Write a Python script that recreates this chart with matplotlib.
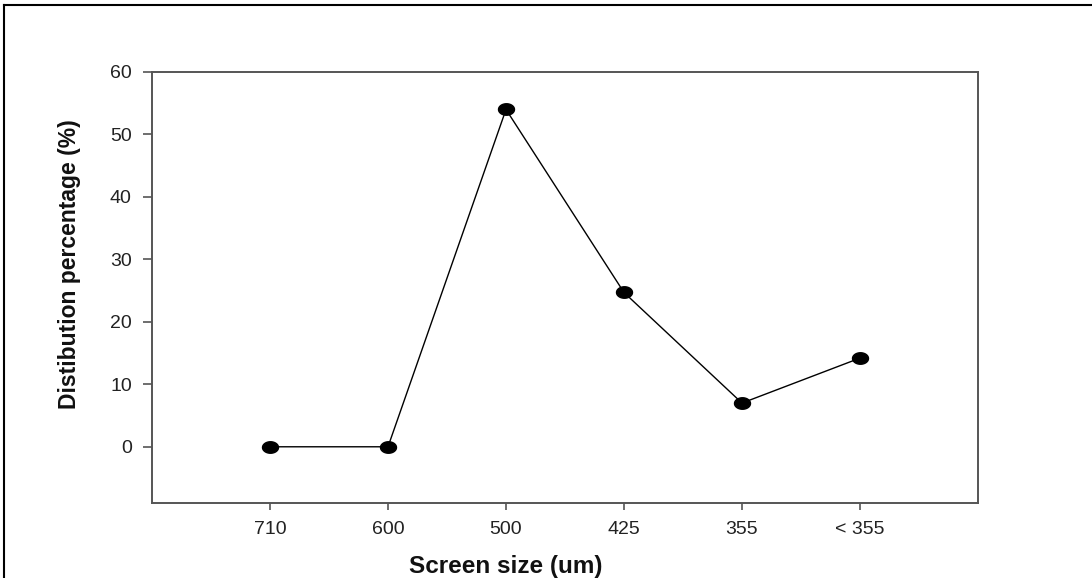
import matplotlib
matplotlib.use("Agg")
import matplotlib.pyplot as plt
from matplotlib.path import Path
from matplotlib.lines import Line2D
import numpy as np

categories = ["710", "600", "500", "425", "355", "< 355"]
values = [0, 0, 54, 24.7, 7, 14.2]
yticks = [0, 10, 20, 30, 40, 50, 60]

plt.rcParams['font.family'] = ['Liberation Sans', 'DejaVu Sans']

W, H = 1092, 578
fig = plt.figure(figsize=(W/100, H/100), dpi=100)
ax = fig.add_axes([152/W, 1-503/H, (978-152)/W, (503-72)/H])

# elliptical marker
t = np.linspace(0, 2*np.pi, 60)
ell = Path(np.column_stack([np.cos(t), 0.72*np.sin(t)]), closed=True)

x = np.arange(len(categories))
ax.plot(x, values, color='black', lw=1.0, marker=ell, markersize=11.5,
        markerfacecolor='black', markeredgecolor='black')

ax.set_xlim(-1, 6)
ax.set_ylim(-9, 60)
ax.set_xticks(x)
ax.set_xticklabels(categories)
ax.set_yticks(yticks)
ax.tick_params(direction='out', width=1.2, labelsize=14, color='#555555',
               labelcolor='#222222')
ax.tick_params(axis='y', length=6.5, pad=8)
ax.tick_params(axis='x', length=5, pad=8)
for s in ax.spines.values():
    s.set_linewidth(1.4)
    s.set_color('#555555')

fig.text(506/W, 1-566/H, "Screen size (um)", fontsize=17.5, fontweight='bold',
         ha='center', va='center', color='#111111')
fig.text(70/W, 1-264/H, "Distibution percentage (%)", fontsize=16.5, fontweight='bold',
         rotation=90, ha='center', va='center', color='#111111')

# partial outer frame (top and left edges)
fig.add_artist(Line2D([4/W, 1], [1-5/H, 1-5/H], transform=fig.transFigure,
                      color='black', lw=1.5))
fig.add_artist(Line2D([4/W, 4/W], [0, 1-5/H], transform=fig.transFigure,
                      color='black', lw=1.5))
fig.savefig("out.png", dpi=100)
